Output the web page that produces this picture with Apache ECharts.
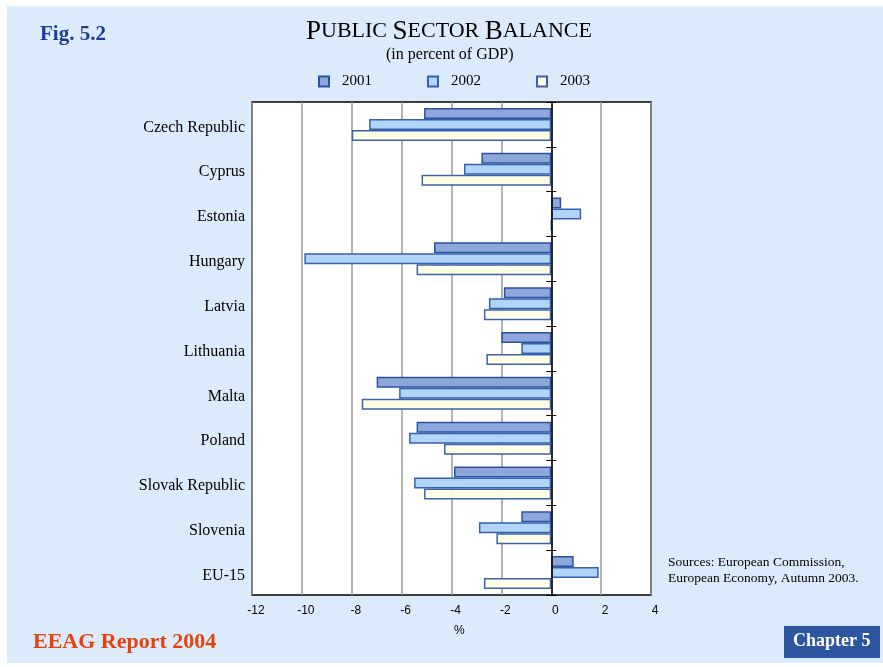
<!DOCTYPE html>
<html>
<head>
<meta charset="utf-8">
<title>Public Sector Balance</title>
<script src="https://cdn.jsdelivr.net/npm/echarts@6/dist/echarts.min.js"></script>
<style>
  html, body { margin: 0; padding: 0; background: #ffffff; }
  #chart { width: 883px; height: 667px; }
</style>
</head>
<body>
<div id="chart"></div>
<script>
// Countries, top to bottom
const categories = ['Czech Republic', 'Cyprus', 'Estonia', 'Hungary', 'Latvia', 'Lithuania',
  'Malta', 'Poland', 'Slovak Republic', 'Slovenia', 'EU-15'];

// Public sector balance, percent of GDP
const values2001 = [-5.1, -2.8, 0.4, -4.7, -1.9, -2.0, -7.0, -5.4, -3.9, -1.2, 0.9];
const values2002 = [-7.3, -3.5, 1.2, -9.9, -2.5, -1.2, -6.1, -5.7, -5.5, -2.9, 1.9];
const values2003 = [-8.0, -5.2, 0.0, -5.4, -2.7, -2.6, -7.6, -4.3, -5.1, -2.2, -2.7];

const years = ['2001', '2002', '2003'];
const xTicks = [-12, -10, -8, -6, -4, -2, 0, 2, 4];

const serif = '"Liberation Serif", "DejaVu Serif", serif';
const sans = '"Liberation Sans", Arial, sans-serif';

const fills = ['#8EA7DB', '#B1D5F9', '#FFFFE5'];
const strokes = ['#2A52A2', '#3560AC', '#3A63AC'];

const chart = echarts.init(document.getElementById('chart'), null, { renderer: 'canvas' });

function barSeries(name, data, i) {
  return {
    name: name,
    type: 'bar',
    data: data,
    yAxisIndex: 0,
    barWidth: 11,
    barGap: '0%',
    itemStyle: { color: fills[i], borderColor: strokes[i], borderWidth: 1.5 },
    emphasis: { disabled: true },
    z: 3
  };
}

const catAxisBase = {
  type: 'category',
  data: categories,
  inverse: true,
  boundaryGap: true
};

const option = {
  animation: false,
  backgroundColor: '#ffffff',
  graphic: [
    {
      type: 'rect', z: -10, silent: true,
      shape: { x: 7, y: 6, width: 876, height: 657 },
      style: { fill: '#DCEBFC' }
    },
    {
      type: 'text', left: 40, top: 24,
      style: { text: 'Fig. 5.2', font: 'bold 21px ' + serif, fill: '#1E3C96' }
    },
    {
      type: 'text', left: 306, top: 18,
      style: {
        text: '{b|P}{s|UBLIC }{b|S}{s|ECTOR }{b|B}{s|ALANCE}',
        rich: {
          b: { font: '27px ' + serif, fill: '#000' },
          s: { font: '22px ' + serif, fill: '#000' }
        }
      }
    },
    {
      type: 'text', left: 386, top: 47,
      style: { text: '(in percent of GDP)', font: '16px ' + serif, fill: '#000' }
    },
    {
      type: 'text', left: 668, top: 554,
      style: {
        text: 'Sources: European Commission,\nEuropean Economy, Autumn 2003.',
        font: '13.5px ' + serif, fill: '#000', lineHeight: 16
      }
    },
    {
      type: 'text', left: 33, top: 631,
      style: { text: 'EEAG Report 2004', font: 'bold 22px ' + serif, fill: '#E5420E' }
    },
    {
      type: 'rect', left: 784, top: 626,
      shape: { width: 96, height: 32 },
      style: { fill: '#2D55A0' }
    },
    {
      type: 'text', left: 793, top: 632,
      style: { text: 'Chapter 5', font: 'bold 18px ' + serif, fill: '#ffffff' }
    },
    {
      type: 'text', left: 454, top: 625,
      style: { text: '%', font: '12px ' + sans, fill: '#000' }
    }
  ],
  legend: {
    data: years,
    left: 313, top: 69,
    icon: 'rect',
    itemWidth: 10, itemHeight: 10,
    itemGap: 55,
    textStyle: { fontFamily: serif, fontSize: 15, color: '#000', padding: [0, 0, 0, 8] },
    selectedMode: false
  },
  grid: {
    left: 252, right: 232, top: 102, bottom: 72,
    show: true, backgroundColor: '#ffffff', borderColor: '#000', borderWidth: 1.5,
    containLabel: false
  },
  xAxis: {
    type: 'value',
    min: xTicks[0], max: xTicks[xTicks.length - 1], interval: 2,
    axisLine: { show: false },
    axisTick: { show: false },
    axisLabel: { fontFamily: sans, fontSize: 12, color: '#000', margin: 10, padding: [0, 0, 0, 8] },
    splitLine: { show: true, lineStyle: { color: '#9A9A9A', width: 1.5 } }
  },
  yAxis: [
    Object.assign({}, catAxisBase, {
      position: 'left',
      axisLine: { show: false, onZero: false },
      axisTick: { show: false },
      axisLabel: {
        fontFamily: serif, fontSize: 16, color: '#000', margin: 7,
        verticalAlign: 'top', lineHeight: 6
      }
    }),
    Object.assign({}, catAxisBase, {
      position: 'left',
      axisLine: { show: true, onZero: true, onZeroAxisIndex: 0, lineStyle: { color: '#000', width: 1.5 } },
      axisTick: { show: true, length: 5, lineStyle: { color: '#000', width: 1 } },
      axisLabel: { show: false },
      z: 5
    }),
    Object.assign({}, catAxisBase, {
      position: 'left',
      axisLine: { show: false, onZero: true, onZeroAxisIndex: 0 },
      axisTick: { show: true, inside: true, length: 5, lineStyle: { color: '#000', width: 1 } },
      axisLabel: { show: false },
      z: 5
    })
  ],
  series: [
    barSeries(years[0], values2001, 0),
    barSeries(years[1], values2002, 1),
    barSeries(years[2], values2003, 2)
  ]
};

chart.setOption(option);
</script>
</body>
</html>
